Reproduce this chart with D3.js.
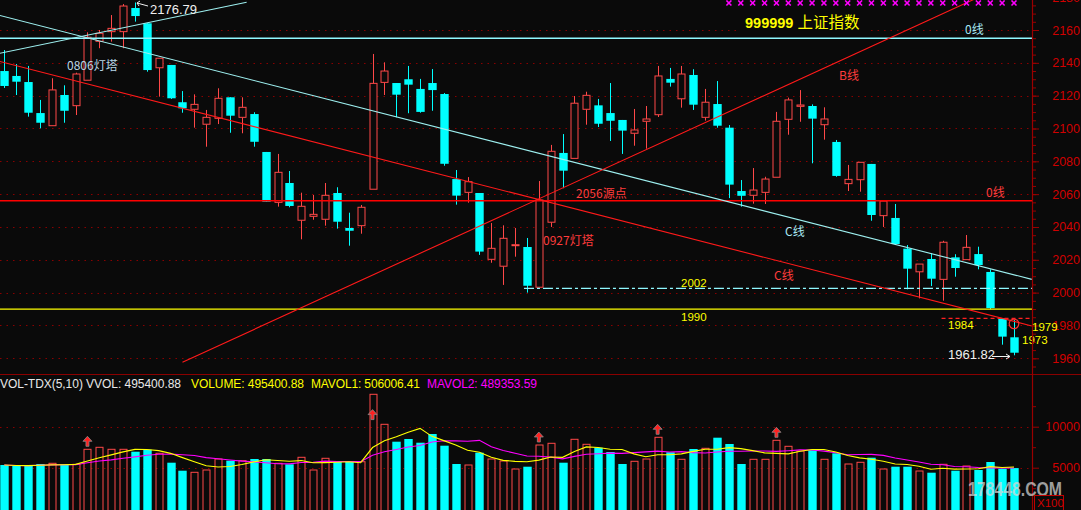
<!DOCTYPE html>
<html><head><meta charset="utf-8">
<script src="https://cdn.jsdelivr.net/npm/d3@7"></script>
<style>html,body{margin:0;padding:0;background:#0a0a0a;overflow:hidden}</style>
</head><body>
<svg id="c" width="1081" height="510"></svg>
<script>
// ---- data ----
const openP = [2135.0,2132.0,2128.3,2109.4,2101.7,2120.4,2113.9,2129.4,2153.1,2159.0,
2159.0,2173.4,2164.1,2137.0,2138.7,2116.0,2111.7,2102.6,2106.2,2119.0,
2106.8,2108.8,2085.7,2055.0,2066.8,2044.1,2046.5,2044.7,2060.7,2039.4,
2040.8,2063.0,2128.1,2127.7,2130.0,2124.1,2127.7,2121.0,2069.2,2061.1,
2060.7,2020.3,2016.1,2028.6,2027.8,2003.3,2042.9,2085.1,2081.8,2111.7,
2114.1,2109.4,2105.2,2097.1,2104.4,2108.4,2130.2,2118.1,2132.6,2106.8,
2114.9,2100.5,2061.9,2059.3,2061.1,2070.3,2105.6,2113.5,2113.7,2102.3,
2091.8,2066.4,2068.8,2078.4,2046.9,2045.5,2026.8,2012.7,2020.5,2008.1,
2021.5,2020.1,2023.5,2012.6,1984.4,1972.8];
const closeP = [2125.9,2128.5,2109.6,2103.5,2123.5,2110.8,2133.2,2155.6,2158.0,2161.0,
2174.6,2168.5,2135.6,2142.8,2118.4,2112.3,2114.7,2106.8,2118.4,2107.8,
2112.9,2091.9,2055.4,2073.3,2052.8,2052.6,2047.7,2059.3,2043.2,2037.7,
2052.0,2127.5,2135.0,2120.6,2126.7,2110.1,2123.4,2078.5,2059.1,2067.6,
2025.0,2027.0,2033.1,2029.2,2004.2,2056.4,2086.1,2074.3,2115.4,2120.2,
2102.9,2104.7,2098.7,2099.1,2105.8,2132.0,2127.9,2133.2,2114.5,2116.0,
2101.7,2065.8,2059.0,2062.5,2069.2,2104.4,2117.4,2114.3,2106.0,2105.8,
2071.1,2069.0,2079.4,2047.3,2055.8,2029.6,2014.6,2017.4,2008.5,2030.7,
2015.0,2027.6,2016.8,1990.6,1973.2,1963.4];
const highP = [2147.8,2139.3,2138.1,2117.4,2130.6,2126.3,2134.0,2158.6,2160.0,2169.1,
2175.8,2176.79,2164.1,2142.8,2138.7,2122.8,2120.8,2111.3,2124.5,2119.0,
2119.0,2109.9,2085.7,2084.5,2074.1,2060.9,2059.5,2066.8,2064.2,2048.7,
2053.4,2145.4,2140.3,2127.7,2138.1,2130.2,2136.2,2121.6,2074.7,2070.4,
2060.7,2042.4,2041.0,2039.4,2033.3,2068.0,2090.0,2096.6,2119.8,2122.4,
2118.0,2127.7,2105.2,2111.9,2113.7,2138.1,2136.9,2138.1,2136.1,2124.1,
2128.9,2102.1,2068.6,2075.9,2070.6,2110.1,2118.8,2123.4,2114.7,2112.9,
2093.0,2077.8,2079.4,2078.4,2055.8,2054.0,2029.0,2017.4,2024.0,2031.6,
2023.4,2035.1,2028.0,2014.2,1984.4,1983.3];
const lowP = [2124.7,2120.4,2107.2,2100.1,2101.7,2103.5,2108.2,2129.4,2148.9,2152.9,
2148.9,2165.1,2134.6,2119.4,2118.0,2109.6,2100.5,2088.9,2102.7,2097.4,
2097.1,2088.9,2055.4,2052.4,2052.0,2032.5,2044.4,2040.8,2039.0,2028.6,
2035.9,2063.0,2120.4,2106.8,2109.3,2109.6,2110.8,2077.3,2053.6,2054.8,
2023.0,2018.2,2004.7,2021.9,2000.0,2003.3,2040.0,2063.6,2081.8,2102.3,
2100.9,2092.4,2084.5,2089.5,2087.7,2107.0,2125.5,2112.7,2111.3,2104.8,
2100.5,2057.6,2052.4,2054.2,2054.0,2070.3,2096.2,2104.1,2078.8,2093.2,
2070.6,2061.9,2061.5,2043.8,2040.0,2029.6,2002.0,1996.5,2004.0,1995.1,
2009.7,2020.1,2014.2,1989.9,1968.3,1961.82];
// volume in units of x100
const volume = [5329,5207,5207,5451,5537,5415,5415,7244,7488,7244,
7244,6951,7195,6756,5610,4634,4439,4720,6061,5854,
5854,6061,6061,5537,5415,6268,4720,6146,5732,5732,
5732,13951,10293,8171,8500,8049,9110,7683,5451,5329,
6829,6061,5817,4841,5122,7768,7976,5610,8463,7854,
7439,6915,5451,5780,6061,8707,6878,6024,7280,7366,
8659,7890,5451,6024,6024,8341,7610,7037,7122,6024,
6756,5451,5659,6219,4841,5122,5122,4598,4390,5415,
4634,5207,4720,5695,4878,4954];
const priceTicks = [1960,1980,2000,2020,2040,2060,2080,2100,2120,2140,2160,2180];
const volTicks = [5000,10000];
const arrowBars = [7,31,45,55,65];
const signalBars = [61,62,63,64,65,66,67,68,69,70,71,72,73,74,75,76,77,78,79,80,81,82,83,84,85];
// horizontal levels
const levelCyanZero = 2155, levelRedZero = 2056, levelYellow = 1990, level2002 = 2002.6, level1984 = 1984.3;
// trend lines as [index, price] pairs
const cyanDown = [[-0.4,2168.9],[86.5,2008.1]];
const cyanUp   = [[-0.4,2145.8],[20.4,2176.9]];
const redDown  = [[-0.4,2140.9],[86.5,1979.7]];
const redUp    = [[15.0,1957.6],[82.3,2180.9]];

// ---- drawing ----
const W=1081,H=510, AX=1032, SEP=374;
const svg = d3.select('#c');
const BG='#0a0a0a', RED='#ff4848', CY='#00ffff', LCY='#8ff8ff', GRID='#8a0000', AXC='#9a0000';
const FONT='"Liberation Sans", Arial, sans-serif';
const CJK='"Noto Sans CJK SC", "Liberation Sans", sans-serif';
svg.append('rect').attr('width',W).attr('height',H).attr('fill',BG);

const x = d3.scaleLinear().domain([0,85]).range([4.3,1014]);
const y = d3.scaleLinear().domain([1960,2160]).range([358.3,30]);
const yv = d3.scaleLinear().domain([0,10000]).range([508.7,426.7]);

const defs = svg.append('defs');
defs.append('clipPath').attr('id','pp').append('rect').attr('x',0).attr('y',0).attr('width',AX).attr('height',SEP);
defs.append('clipPath').attr('id','vp').append('rect').attr('x',0).attr('y',SEP+1).attr('width',AX).attr('height',H-SEP);

// gridlines
const grid = svg.append('g').attr('stroke',GRID).attr('stroke-dasharray','1.5,5').attr('stroke-width',1);
priceTicks.forEach(t=>grid.append('line').attr('x1',0).attr('x2',AX).attr('y1',Math.round(y(t))+0.5).attr('y2',Math.round(y(t))+0.5));
volTicks.forEach(t=>grid.append('line').attr('x1',0).attr('x2',AX).attr('y1',Math.round(yv(t))+0.5).attr('y2',Math.round(yv(t))+0.5));

// title background + title
svg.append('rect').attr('x',740).attr('y',13).attr('width',127).attr('height',22).attr('fill',BG);
const title = svg.append('text').attr('x',745).attr('y',28).attr('fill','#ffff00');
title.append('tspan').attr('font-family',FONT).attr('font-weight','bold').attr('font-size',14.5).text('999999');
title.append('tspan').attr('font-family',CJK).attr('font-size',15.5).attr('dx',4).text('上证指数');

// price pane
const pp = svg.append('g').attr('clip-path','url(#pp)');
const bw = 8.4;
const candles = d3.range(openP.length).map(i=>({i,o:openP[i],c:closeP[i],h:highP[i],l:lowP[i]}));
candles.forEach(d=>{
  const cx = Math.round(x(d.i))+0.5;
  const up = d.c >= d.o;
  const top = y(Math.max(d.o,d.c)), bot = y(Math.min(d.o,d.c));
  if(up){
    pp.append('line').attr('x1',cx).attr('x2',cx).attr('y1',y(d.h)).attr('y2',top).attr('stroke',RED);
    pp.append('line').attr('x1',cx).attr('x2',cx).attr('y1',bot).attr('y2',y(d.l)).attr('stroke',RED);
    pp.append('rect').attr('x',cx-3.5).attr('y',top).attr('width',7).attr('height',Math.max(1,bot-top))
      .attr('fill',BG).attr('stroke',RED).attr('stroke-width',1);
  } else {
    pp.append('line').attr('x1',cx).attr('x2',cx).attr('y1',y(d.h)).attr('y2',y(d.l)).attr('stroke',CY);
    pp.append('rect').attr('x',cx-bw/2).attr('y',top).attr('width',bw).attr('height',Math.max(1.5,bot-top)).attr('fill',CY);
  }
});

// horizontal levels
pp.append('line').attr('x1',0).attr('x2',AX).attr('y1',y(levelCyanZero)).attr('y2',y(levelCyanZero)).attr('stroke',LCY).attr('stroke-width',1.5);
pp.append('line').attr('x1',0).attr('x2',AX).attr('y1',y(levelRedZero)).attr('y2',y(levelRedZero)).attr('stroke','#ff0000').attr('stroke-width',1.6);
pp.append('line').attr('x1',0).attr('x2',AX).attr('y1',y(levelYellow)).attr('y2',y(levelYellow)).attr('stroke','#ffff00').attr('stroke-width',1.3);
pp.append('line').attr('x1',x(44)-3).attr('x2',AX).attr('y1',y(level2002)).attr('y2',y(level2002)).attr('stroke',LCY).attr('stroke-width',1.2).attr('stroke-dasharray','10,3,3,3');
pp.append('line').attr('x1',x(78.9)).attr('x2',AX).attr('y1',y(level1984)).attr('y2',y(level1984)).attr('stroke','#ff2020').attr('stroke-width',1.3).attr('stroke-dasharray','4,3');

// trend lines
const ln = d3.line().x(d=>x(d[0])).y(d=>y(d[1]));
pp.append('path').attr('d',ln(cyanDown)).attr('stroke','#9ef0f0').attr('fill','none').attr('stroke-width',1.1);
pp.append('path').attr('d',ln(cyanUp)).attr('stroke','#9ef0f0').attr('fill','none').attr('stroke-width',1.1);
pp.append('path').attr('d',ln(redDown)).attr('stroke','#ff1a1a').attr('fill','none').attr('stroke-width',1.1);
pp.append('path').attr('d',ln(redUp)).attr('stroke','#ff1a1a').attr('fill','none').attr('stroke-width',1.1);

// signal marks at top
signalBars.forEach(i=>{
  const cx=x(i), cy=3;
  pp.append('path').attr('d',`M${cx-2.5},${cy-2.5}L${cx+2.5},${cy+2.5}M${cx+2.5},${cy-2.5}L${cx-2.5},${cy+2.5}`)
    .attr('stroke','#ff00ff').attr('stroke-width',1.6);
});

// annotations
function txt(g,t,px,py,col,size,font){ return g.append('text').attr('x',px).attr('y',py).attr('fill',col).attr('font-size',size).attr('font-family',font||CJK).text(t); }
txt(svg,'0806灯塔',67,70,'#b8d6e6',12);
txt(svg,'2176.79',150,14,'#f0f0f0',13,FONT);
svg.append('path').attr('d','M148,6 L137,3 M137,3 L140,1 M137,3 L139,6').attr('stroke','#f0f0f0').attr('fill','none').attr('stroke-width',1);
txt(svg,'2056源点',576,198,'#ff3c3c',12);
txt(svg,'0927灯塔',543,245,'#ff3c3c',12);
txt(svg,'B线',839,80,'#ff3c3c',12);
txt(svg,'0线',965,34,'#a8e8f4',12);
txt(svg,'0线',986,197,'#ff3c3c',12);
txt(svg,'C线',785,236,'#a8e8f4',12);
txt(svg,'C线',774,280,'#ff3c3c',12);
txt(svg,'2002',681,287,'#ffff00',11.5,FONT);
txt(svg,'1990',681,321,'#ffff00',11.5,FONT);
txt(svg,'1984',948,329,'#ffff00',11.5,FONT);
txt(svg,'1973',1022,344,'#ffff00',11.5,FONT);
txt(svg,'1961.82',948,359,'#f0f0f0',13,FONT);
svg.append('path').attr('d','M992,356.5 L1010,356.5 M1010,356.5 L1006,354 M1010,356.5 L1006,359').attr('stroke','#f0f0f0').attr('fill','none');
svg.append('circle').attr('cx',x(85)).attr('cy',y(1981)).attr('r',4.8).attr('fill','none').attr('stroke','#ff3030').attr('stroke-width',1.2);

// separator
svg.append('line').attr('x1',0).attr('x2',W).attr('y1',SEP+0.5).attr('y2',SEP+0.5).attr('stroke','#8a0000').attr('stroke-width',1.2);

// volume pane
const vp = svg.append('g').attr('clip-path','url(#vp)');
volume.forEach((v,i)=>{
  const cx=Math.round(x(i))+0.5, up = closeP[i]>=openP[i], t=yv(v);
  if(up) vp.append('rect').attr('x',cx-3.5).attr('y',t).attr('width',7).attr('height',H+5-t).attr('fill','none').attr('stroke',RED);
  else vp.append('rect').attr('x',cx-bw/2).attr('y',t).attr('width',bw).attr('height',H+5-t).attr('fill',CY);
});
function ma(n){ return volume.map((v,i)=>{ const s=volume.slice(Math.max(0,i-n+1),i+1); return d3.mean(s); }); }
const ma5 = ma(5), ma10 = ma(10);
const vl = d3.line().x((d,i)=>x(i)).y(d=>yv(d));
vp.append('path').attr('d',vl(ma10)).attr('stroke','#ff00ff').attr('fill','none').attr('stroke-width',1.1);
vp.append('path').attr('d',vl(ma5)).attr('stroke','#ffff00').attr('fill','none').attr('stroke-width',1.1);
arrowBars.forEach(i=>{
  const cx=x(i), b=yv(Math.min(volume[i],10500))-3;
  svg.append('path').attr('d',`M${cx},${b-10} L${cx+4.5},${b-5} L${cx+1.5},${b-5} L${cx+1.5},${b} L${cx-1.5},${b} L${cx-1.5},${b-5} L${cx-4.5},${b-5} Z`)
    .attr('fill','#ff2020').attr('stroke','#8a8a8a').attr('stroke-width',0.8);
});

// volume header
const hy=388;
txt(svg,'VOL-TDX(5,10) VVOL: 495400.88',0,hy,'#e8e8e8',12,FONT).attr('textLength',181);
txt(svg,'VOLUME: 495400.88',191,hy,'#ffff00',12,FONT).attr('textLength',113);
txt(svg,'MAVOL1: 506006.41',311,hy,'#ffff00',12,FONT).attr('textLength',109);
txt(svg,'MAVOL2: 489353.59',427,hy,'#ff00ff',12,FONT).attr('textLength',110);

// right axes
const axG = svg.append('g').attr('transform',`translate(${AX},0)`);
const ay = d3.axisRight(y).tickValues(priceTicks).tickSize(7).tickFormat(d3.format('d'));
axG.call(ay);
const ayMinor = d3.axisRight(y).tickValues(d3.range(1955,2185,5)).tickSize(4).tickFormat('');
axG.append('g').call(ayMinor);
const av = d3.axisRight(yv).tickValues(volTicks).tickSize(7).tickFormat(d3.format('d'));
axG.append('g').call(av);
axG.append('g').call(d3.axisRight(yv).tickValues([2500,7500,12500]).tickSize(4).tickFormat(''));
axG.selectAll('.domain').remove();
axG.selectAll('line').attr('stroke',AXC);
axG.selectAll('text').attr('fill','#d00000').attr('font-family',FONT).attr('font-size',12.5).attr('x',48).attr('text-anchor','end');
svg.append('line').attr('x1',AX+0.5).attr('x2',AX+0.5).attr('y1',0).attr('y2',H).attr('stroke',AXC).attr('stroke-width',1.2);
txt(svg,'1979',1032,331,'#ffff00',11.5,FONT);

// watermark
txt(svg,'178448.COM',968,496,'rgba(215,215,215,0.72)',21,FONT).attr('font-weight','bold').attr('textLength',94).attr('lengthAdjust','spacingAndGlyphs');

// x100 box
svg.append('rect').attr('x',1034.5).attr('y',495.5).attr('width',29).attr('height',15).attr('fill','none').attr('stroke','#c00000');
txt(svg,'X100',1037,507,'#d00000',11.5,FONT);
</script>
</body></html>
